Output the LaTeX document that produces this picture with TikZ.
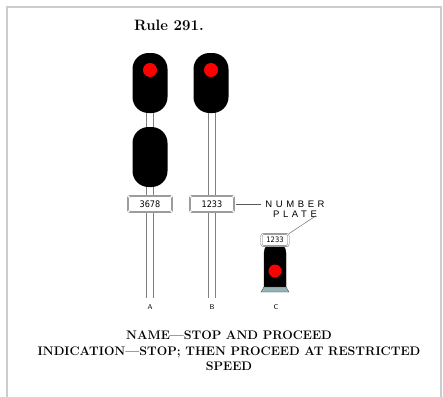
\documentclass[tikz,border=0pt]{standalone}
\usepackage{fontspec}
\usepackage{tikz}
\usetikzlibrary{positioning}
\newfontfamily\platefont[LetterSpace=38]{Liberation Sans}
\newfontfamily\numfont{DejaVu Sans Condensed}

\tikzset{
    head/.style={rectangle, fill=black, minimum width=35pt, minimum height=60pt,
        rounded corners=16pt, inner sep=0pt},
    lamp/.style={circle, fill=red, minimum size=14pt, inner sep=0pt},
    mastline/.style={draw=gray, line width=1pt},
    numplate/.style={draw=gray!80!black, double=white, double distance=0.8pt,
        fill=white, rounded corners=2pt, minimum width=44pt, minimum height=16pt,
        inner sep=1pt, font=\numfont\fontsize{9}{9}\selectfont},
    mastlabel/.style={font=\sffamily\fontsize{7}{8}\selectfont},
    platelabel/.style={font=\platefont\fontsize{9.5}{10}\selectfont, inner sep=1.5pt},
    caption/.style={font=\bfseries\fontsize{12.4}{15.5}\selectfont, align=center}
}

\begin{document}
\begin{tikzpicture}[x=1pt, y=-1pt]
    \useasboundingbox (0,0) rectangle (443,396);
    \draw[gray!40, line width=1.5pt] (7,400) -- (7,7) -- (441,7) -- (441,400);

    \node (title) at (169,25) {\bfseries\fontsize{15}{17}\selectfont Rule 291.};

    % signal A
    \draw[mastline] (146.5,100) -- (146.5,298);
    \draw[mastline] (153,100) -- (153,298);
    \node[head] (headA1) at (150,83) {};
    \node[head] (headA2) at (150,157) {};
    \node[lamp] (lampA) at (150,70) {};
    \node[numplate] (plateA) at (150,204) {3678};

    % signal B
    \draw[mastline] (208.5,100) -- (208.5,298);
    \draw[mastline] (215,100) -- (215,298);
    \node[head] (headB) at (211,83) {};
    \node[lamp] (lampB) at (211,70) {};
    \node[numplate] (plateB) at (212,204) {1233};

    \node[platelabel] (npNum) at (295,204) {NUMBER};
    \node[platelabel, below=0pt of npNum] (npPlate) {PLATE};
    \draw[gray!70!black, shorten <=2pt, shorten >=3pt] (plateB) -- (npNum);

    % dwarf signal C
    \draw[fill=black] (264,290) -- (264,253) arc[start angle=180, end angle=360, radius=11]
        -- (286,290) -- cycle;
    \node[lamp, minimum size=13pt] (lampC) at (275,271) {};
    \draw[fill=gray!60!teal!60, draw=gray!60!black] (264,287) -- (286,287) -- (289,292)
        -- (261,292) -- cycle;
    \node[numplate, minimum width=27pt, minimum height=12pt,
        font=\numfont\fontsize{7.5}{7.5}\selectfont] (plateC) at (275,240) {1233};
    \draw[gray!70!black, shorten <=3pt] (npPlate.east) -- (plateC.north east);

    \node[mastlabel] (labA) at (150,307) {A};
    \node[mastlabel] (labB) at (212,307) {B};
    \node[mastlabel] (labC) at (276,307) {C};

    \node[caption] (cap) at (229,351) {NAME---STOP AND PROCEED\\
        INDICATION---STOP; THEN PROCEED AT RESTRICTED\\ SPEED};
\end{tikzpicture}
\end{document}
